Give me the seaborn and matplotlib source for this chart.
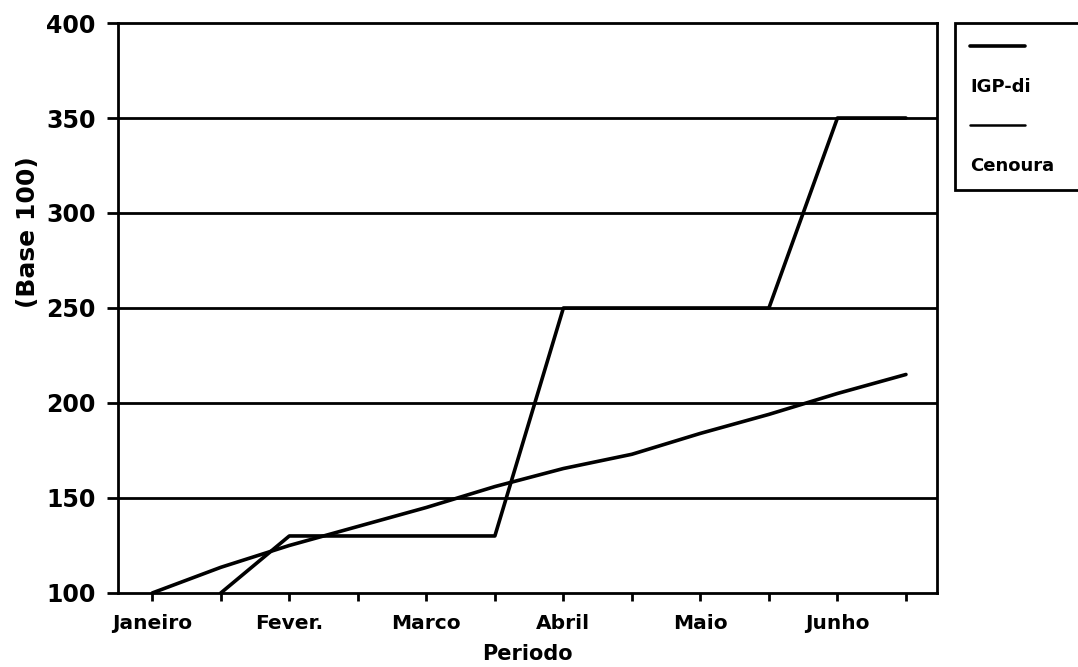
import matplotlib
matplotlib.use("Agg")
import matplotlib.pyplot as plt
from matplotlib.lines import Line2D
import numpy as np
import pandas as pd
import seaborn as sns

# semi-monthly points, labels only on the first of each month
periods = list(range(12))
month_labels = ["Janeiro", "Fever.", "Marco", "Abril", "Maio", "Junho"]
igp_di = [100, 113.5, 125, 135, 145, 156, 165.5, 173, 184, 194, 205, 215]
cenoura = [np.nan, 100, 130, 130, 130, 130, 250, 250, 250, 250, 350, 350]

df = pd.DataFrame({"Periodo": periods * 2,
                   "valor": igp_di + cenoura,
                   "serie": ["IGP-di"] * 12 + ["Cenoura"] * 12})

sns.set_style("white")
plt.rcParams["font.family"] = ["DejaVu Sans"]
plt.rcParams["text.color"] = "black"
plt.rcParams["axes.labelcolor"] = "black"

fig = plt.figure(figsize=(10.78, 6.67), dpi=100)
ax = fig.add_axes([0.1095, 0.111, 0.7595, 0.8545])

# horizontal grid lines
for yv in [150, 200, 250, 300, 350]:
    ax.axhline(yv, color="black", lw=2, zorder=1)

sns.lineplot(data=df, x="Periodo", y="valor", hue="serie",
             palette={"IGP-di": "black", "Cenoura": "black"},
             linewidth=2.6, legend=False, ax=ax, zorder=3)

ax.set_xlim(-0.5, 11.45)
ax.set_ylim(100, 400)
ax.set_xticks(periods)
ax.set_xticklabels([month_labels[i // 2] if i % 2 == 0 else "" for i in periods])
ax.set_yticks([100, 150, 200, 250, 300, 350, 400])

for s in ax.spines.values():
    s.set_visible(True)
    s.set_color("black")
    s.set_linewidth(2)

ax.tick_params(axis="x", bottom=True, direction="out", length=6, width=2,
               colors="black", labelsize=14.5, pad=9)
ax.tick_params(axis="y", left=True, direction="out", length=8, width=2,
               colors="black", labelsize=17, pad=8)
for t in ax.get_xticklabels() + ax.get_yticklabels():
    t.set_fontweight("bold")

ax.set_xlabel("Periodo", fontsize=15, fontweight="bold", labelpad=8)
ax.set_ylabel("(Base 100)", fontsize=18, fontweight="bold")
ax.yaxis.set_label_coords(-0.095, 0.633)

# legend: line sample above the label text
blank = Line2D([], [], color="none")
handles = [Line2D([], [], color="black", lw=2.6), blank,
           Line2D([], [], color="black", lw=1.8), blank]
labels = ["", "IGP-di", "", "Cenoura"]
leg = fig.legend(handles, labels, loc="upper left", mode="expand",
                 bbox_to_anchor=(0.886, 0.5, 0.2, 0.466), borderaxespad=0,
                 frameon=True, framealpha=1, handlelength=3.0,
                 handletextpad=-3.0, labelspacing=1.2, borderpad=0.85,
                 fancybox=False, edgecolor="black",
                 prop={"weight": "bold", "size": 13})
leg.get_frame().set_linewidth(2)

fig.savefig("out.png", dpi=100, facecolor="white")
